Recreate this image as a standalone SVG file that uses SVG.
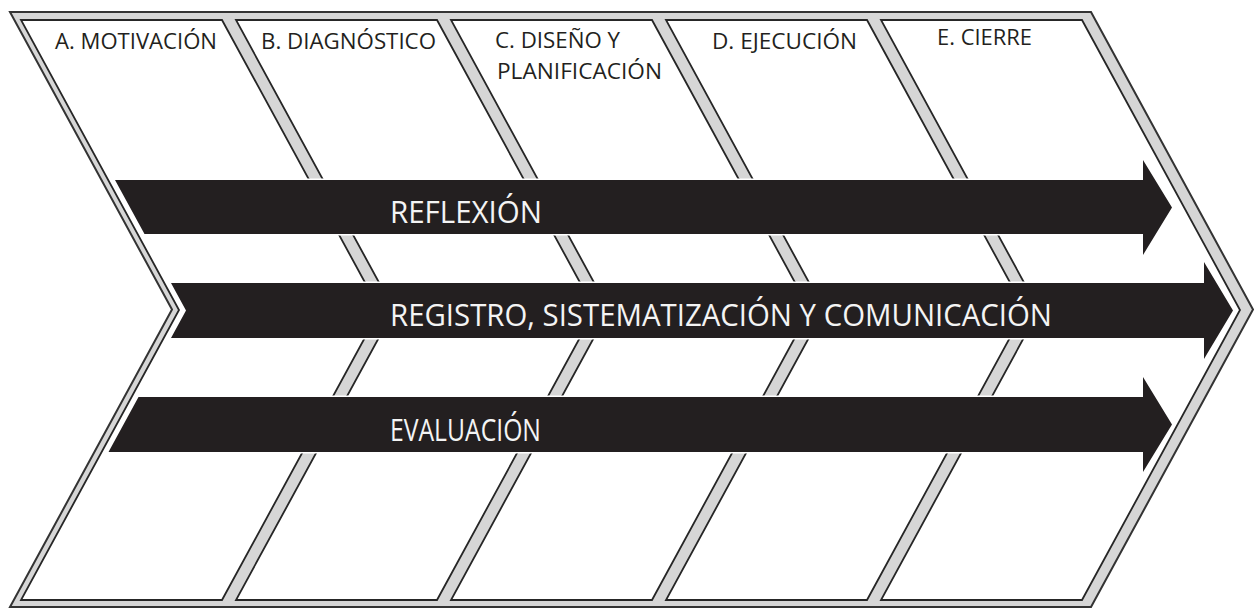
<svg xmlns="http://www.w3.org/2000/svg" width="1255" height="608" viewBox="0 0 1255 608">
<defs>
<style>
.outer{fill:#d6d6d6;stroke:#333;stroke-width:2}
.panel{fill:#fff;stroke:#262626;stroke-width:1.8}
.hdr{font-family:"Open Sans","Liberation Sans",sans-serif;font-size:22px;fill:#231f20}
.arrow{fill:#231f20;stroke:#fff;stroke-width:3;paint-order:stroke}
.lbl{font-family:"Open Sans","Liberation Sans",sans-serif;font-size:31px;fill:#f4f4f4}
</style>
</defs>
<rect width="1255" height="608" fill="#fff"/>
<g id="outline">
<polygon class="outer" points="10,12 1091,12 1253,309.5 1091,607 10,607 172,309.5"/>
</g>
<g id="panel-a">
<polygon class="panel" points="21,20 222,20 380,310 222,600 21,600 179,310"/>
<text class="hdr" x="55" y="49" textLength="162" lengthAdjust="spacingAndGlyphs">A. MOTIVACIÓN</text>
</g>
<g id="panel-b">
<polygon class="panel" points="236,20 437,20 595,310 437,600 236,600 394,310"/>
<text class="hdr" x="261" y="49" textLength="175" lengthAdjust="spacingAndGlyphs">B. DIAGNÓSTICO</text>
</g>
<g id="panel-c">
<polygon class="panel" points="451,20 652,20 810,310 652,600 451,600 609,310"/>
<text class="hdr" x="495" y="48" textLength="125" lengthAdjust="spacingAndGlyphs">C. DISEÑO Y</text>
<text class="hdr" x="497" y="79" textLength="165" lengthAdjust="spacingAndGlyphs">PLANIFICACIÓN</text>
</g>
<g id="panel-d">
<polygon class="panel" points="666,20 867,20 1025,310 867,600 666,600 824,310"/>
<text class="hdr" x="712" y="49" textLength="145" lengthAdjust="spacingAndGlyphs">D. EJECUCIÓN</text>
</g>
<g id="panel-e">
<polygon class="panel" points="881,20 1082,20 1240,310 1082,600 881,600 1039,310"/>
<text class="hdr" x="937" y="45" textLength="95" lengthAdjust="spacingAndGlyphs">E. CIERRE</text>
</g>
<g id="connectors">
<g id="arrow-reflexion">
<polygon class="arrow" points="115,180 1143,180 1143,160 1172,207.5 1143,255 1143,234 144.5,234"/>
<text class="lbl" x="390" y="223" textLength="152" lengthAdjust="spacingAndGlyphs">REFLEXIÓN</text>
</g>
<g id="arrow-registro">
<polygon class="arrow" points="171,283 1204,283 1204,262 1233,310.5 1204,359 1204,338 171,338 186,310.5"/>
<text class="lbl" x="390" y="326" textLength="662" lengthAdjust="spacingAndGlyphs">REGISTRO, SISTEMATIZACIÓN Y COMUNICACIÓN</text>
</g>
<g id="arrow-evaluacion">
<polygon class="arrow" points="138.5,397 1143,397 1143,377 1172,424.5 1143,472 1143,452 108.5,452"/>
<text class="lbl" x="390" y="441" textLength="151" lengthAdjust="spacingAndGlyphs">EVALUACIÓN</text>
</g>
</g>
</svg>
